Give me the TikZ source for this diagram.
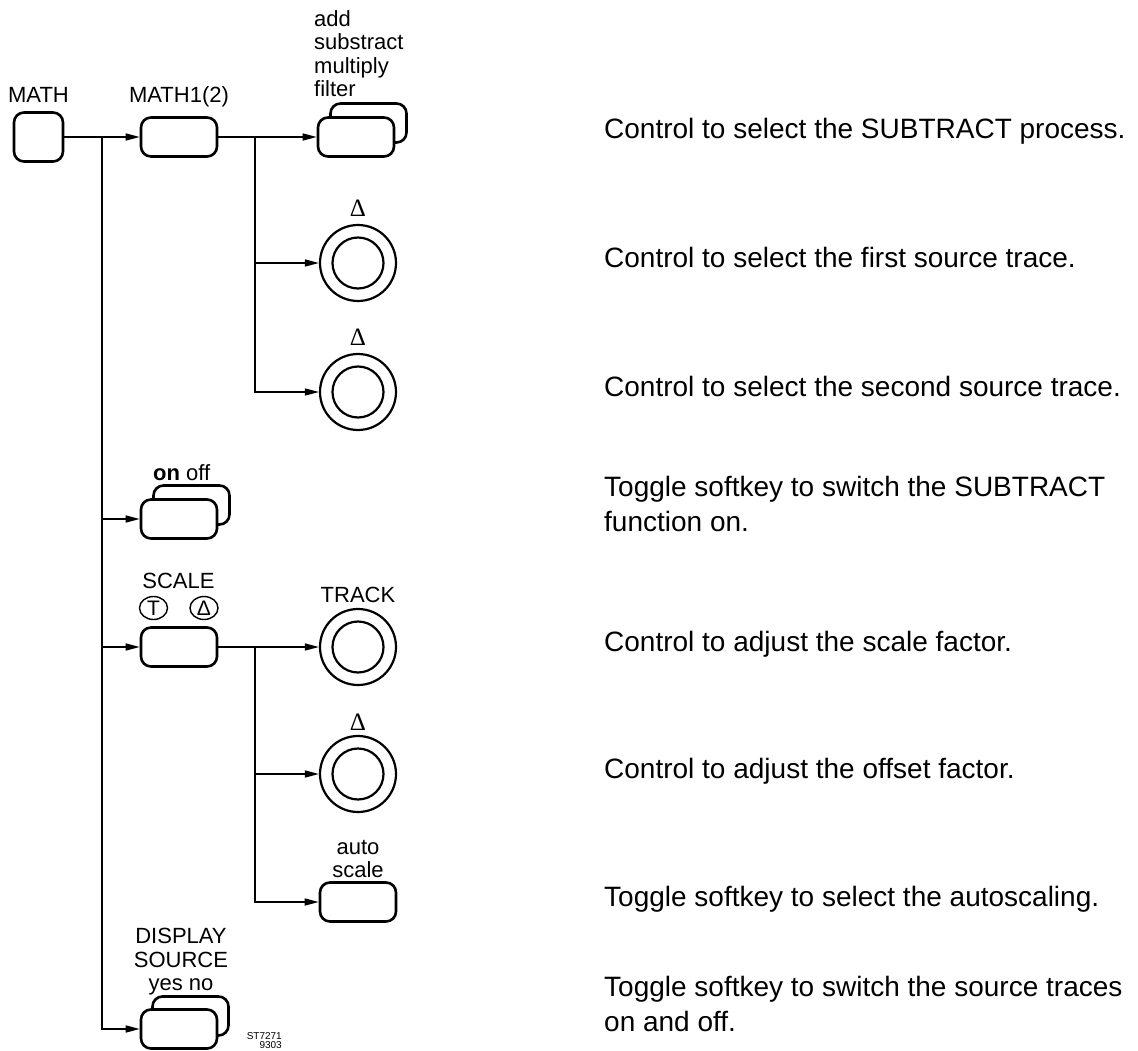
\documentclass[tikz,border=0pt]{standalone}
\usepackage{fontspec}
\setmainfont{Liberation Sans}
\newfontfamily\deltafont{Liberation Serif}
\usetikzlibrary{arrows.meta,shapes.geometric}
\begin{document}
\begin{tikzpicture}[x=1pt,y=-1pt,
  softkey/.style={draw, line width=2.6pt, rounded corners=10pt, minimum width=76pt, minimum height=39pt, inner sep=0pt, fill=white},
  knobouter/.style={draw, circle, line width=2.2pt, minimum size=76pt, inner sep=0pt},
  knobinner/.style={draw, circle, line width=2.2pt, minimum size=51pt, inner sep=0pt},
  lbl/.style={font=\fontsize{22}{23.5}\selectfont, inner sep=0pt, align=center},
  dlt/.style={font=\deltafont\fontsize{25}{25}\selectfont, inner sep=0pt, anchor=base},
  ring/.style={draw, ellipse, line width=1.4pt, minimum width=28pt, minimum height=23pt, inner sep=0pt, font=\fontsize{21}{21}\selectfont},
  desc/.style={font=\fontsize{28}{35}\selectfont, inner sep=0pt, align=left},
  conn/.style={line width=1.5pt},
  arr/.style={conn, -{Triangle[length=14pt,width=7pt]}}
]
\useasboundingbox (0,0) rectangle (1138,1051);

% top row
\node[softkey, minimum width=49pt, minimum height=49pt] (math) at (38.5,137) {};
\node[lbl, anchor=base] (mathl) at (38.5,103) {MATH};
\node[softkey] (m1) at (179,137) {};
\node[lbl, anchor=base] (m1l) at (179,103) {MATH1(2)};
\node[softkey] (procb) at (368.5,123) {};
\node[softkey] (proc) at (356,137) {};
\node[lbl, anchor=north west, align=left] (procl) at (314,10) {add\\substract\\multiply\\filter};

\coordinate (j1) at (102,137);
\coordinate (j2) at (255,137);
\draw[arr] (math.east) -- (m1.west);
\draw[arr] (m1.east) -- (proc.west);

% source knobs
\node[knobouter] (k1) at (358,263) {};
\node[knobinner] (k1i) at (358,263) {};
\node[dlt] (k1l) at (358,217) {Δ};
\node[knobouter] (k2) at (358,392) {};
\node[knobinner] (k2i) at (358,392) {};
\node[dlt] (k2l) at (358,345) {Δ};
\draw[arr] (j2) |- (k1.west);
\draw[arr] (j2) |- (k2.west);

% on / off
\node[softkey] (onoffb) at (191.5,505) {};
\node[softkey] (onoff) at (179,519) {};
\node[lbl, anchor=base west] (onoffl) at (153,480) {\textbf{on} off};

% scale
\node[lbl, anchor=base] (scalel) at (178.5,588) {SCALE};
\node[ring] (ringt) at (153.5,608) {T};
\node[ring] (ringd) at (204,608) {Δ};
\node[softkey] (scale) at (179,647) {};
\coordinate (j3) at (255,647);
\node[knobouter] (k3) at (358,647) {};
\node[knobinner] (k3i) at (358,647) {};
\node[lbl, anchor=base] (k3l) at (358,602) {TRACK};
\node[knobouter] (k4) at (358,774) {};
\node[knobinner] (k4i) at (358,774) {};
\node[dlt] (k4l) at (358,730) {Δ};
\node[softkey] (auto) at (358,902) {};
\node[lbl, anchor=north] (autol) at (358,840) {auto\\scale};
\draw[arr] (scale.east) -- (k3.west);
\draw[arr] (j3) |- (k4.west);
\draw[arr] (j3) |- (auto.west);

% display source
\node[lbl, anchor=north] (displ) at (181,928) {DISPLAY\\SOURCE\\yes no};
\node[softkey] (dispb) at (190.5,1016) {};
\node[softkey] (disp) at (179,1029) {};

\draw[arr] (j1) |- (onoff.west);
\draw[arr] (j1) |- (scale.west);
\draw[arr] (j1) |- (disp.west);

\node[font=\fontsize{10}{9}\selectfont, align=right, anchor=north east, inner sep=0pt] (code) at (282,1032) {ST7271\\9303};

% descriptions
\node[desc, anchor=base west] (t1) at (604,139) {Control to select the SUBTRACT process.};
\node[desc, anchor=base west] (t2) at (604,267) {Control to select the first source trace.};
\node[desc, anchor=base west] (t3) at (604,396) {Control to select the second source trace.};
\node[desc, anchor=north west] (t4) at (604,475.7) {Toggle softkey to switch the SUBTRACT\\function on.};
\node[desc, anchor=base west] (t5) at (604,651) {Control to adjust the scale factor.};
\node[desc, anchor=base west] (t6) at (604,778) {Control to adjust the offset factor.};
\node[desc, anchor=base west] (t7) at (604,906) {Toggle softkey to select the autoscaling.};
\node[desc, anchor=north west] (t8) at (604,975.7) {Toggle softkey to switch the source traces\\on and off.};
\end{tikzpicture}
\end{document}
